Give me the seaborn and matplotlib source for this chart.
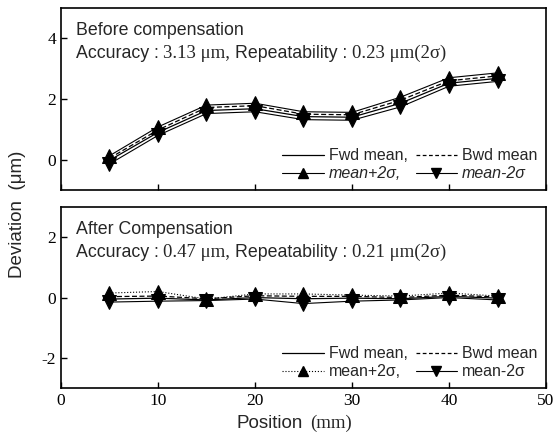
import numpy as np
import pandas as pd
import matplotlib
matplotlib.use("Agg")
import matplotlib.pyplot as plt
import seaborn as sns
from matplotlib.lines import Line2D

sns.set_theme(style="ticks")
plt.rcParams['font.family'] = ['Liberation Sans', 'DejaVu Sans']
plt.rcParams['axes.unicode_minus'] = False

position = [5, 10, 15, 20, 25, 30, 35, 40, 45]

before_fwd = [-0.02, 0.90, 1.62, 1.68, 1.42, 1.40, 1.86, 2.52, 2.68]
before_bwd = [0.05, 0.98, 1.72, 1.78, 1.50, 1.48, 1.96, 2.60, 2.76]
before_plus = [0.13, 1.08, 1.80, 1.86, 1.58, 1.56, 2.06, 2.70, 2.86]
before_minus = [-0.14, 0.80, 1.52, 1.58, 1.32, 1.30, 1.74, 2.42, 2.58]

after_fwd = [-0.05, -0.02, -0.08, 0.00, -0.04, -0.02, -0.04, 0.04, -0.02]
after_bwd = [0.03, 0.05, -0.04, 0.06, 0.04, 0.04, 0.00, 0.08, 0.02]
after_plus = [0.15, 0.20, -0.05, 0.12, 0.12, 0.08, 0.05, 0.15, 0.05]
after_minus = [-0.15, -0.12, -0.10, -0.05, -0.20, -0.12, -0.08, 0.00, -0.08]

x_ticks = [0, 10, 20, 30, 40, 50]

fig = plt.figure(figsize=(5.58, 4.4), dpi=100)
ax1 = fig.add_axes([0.1093, 0.568, 0.8692, 0.414])
ax2 = fig.add_axes([0.1093, 0.118, 0.8692, 0.4115])

serif = 'Liberation Serif'


def draw(ax, fwd, bwd, plus, minus, plus_ls, italic):
    sns.lineplot(x=position, y=fwd, ax=ax, color='black', lw=0.9, linestyle='-')
    sns.lineplot(x=position, y=bwd, ax=ax, color='black', lw=0.9, linestyle=(0, (4, 2)))
    sns.lineplot(x=position, y=plus, ax=ax, color='black', lw=0.8, linestyle=plus_ls,
                 marker='^', markersize=10.5, markeredgecolor='black', markerfacecolor='black')
    sns.lineplot(x=position, y=minus, ax=ax, color='black', lw=0.8, linestyle='-',
                 marker='v', markersize=10.5, markeredgecolor='black', markerfacecolor='black')
    ax.set_xlim(0, 50)
    ax.set_xticks(x_ticks)
    ax.tick_params(direction='in', length=4, width=1, colors='black', labelsize=12.5)
    for lab in ax.get_xticklabels() + ax.get_yticklabels():
        lab.set_fontfamily(serif)
    for s in ax.spines.values():
        s.set_visible(True)
        s.set_linewidth(1.2)
        s.set_color('black')
    h = [Line2D([], [], color='black', lw=0.9, ls='-'),
         Line2D([], [], color='black', lw=0.8, ls=plus_ls, marker='^', markersize=7),
         Line2D([], [], color='black', lw=0.9, ls=(0, (3, 2))),
         Line2D([], [], color='black', lw=0.8, ls='-', marker='v', markersize=7)]
    labels = ['Fwd mean,', 'mean+2σ,', 'Bwd mean', 'mean-2σ']
    leg = ax.legend(h, labels, ncol=2, loc='lower right', frameon=False, fontsize=11.5,
                    handlelength=2.6, handletextpad=0.3, columnspacing=0.5,
                    labelspacing=0.2, borderaxespad=0.15)
    if italic:
        for t in leg.get_texts()[1::2]:
            t.set_fontstyle('italic')


draw(ax1, before_fwd, before_bwd, before_plus, before_minus, '-', True)
draw(ax2, after_fwd, after_bwd, after_plus, after_minus, ':', False)

ax1.set_ylim(-1, 5)
ax1.set_yticks([0, 2, 4])
ax1.tick_params(axis='x', labelbottom=False)
ax2.set_ylim(-3, 3)
ax2.set_yticks([-2, 0, 2])


def header(ax, title, acc, rep):
    ax.text(0.03, 0.925, title, transform=ax.transAxes, fontsize=12.8, va='top', ha='left')
    t1 = ax.text(0.03, 0.725, 'Accuracy : ', transform=ax.transAxes, fontsize=12.8,
                 va='baseline', ha='left')
    t2 = ax.annotate(acc + ' μm, ', xy=(1, 0), xycoords=t1, fontsize=13.5,
                     va='bottom', ha='left', family=serif)
    t3 = ax.annotate('Repeatability : ', xy=(1, 0), xycoords=t2, fontsize=12.8,
                     va='bottom', ha='left')
    ax.annotate(rep + ' μm(2σ)', xy=(1, 0), xycoords=t3, fontsize=13.5,
                va='bottom', ha='left', family=serif)


header(ax1, 'Before compensation', '3.13', '0.23')
header(ax2, 'After Compensation', '0.47', '0.21')

fig.text(0.5435, 0.018, 'Position', fontsize=13.5, ha='right', va='bottom')
fig.text(0.555, 0.018, '(mm)', fontsize=13.5, ha='left', va='bottom', family=serif)
fig.text(0.032, 0.512, 'Deviation  (μm)', fontsize=13.5, rotation=90, ha='center', va='center')

fig.savefig('out.png', dpi=100)
